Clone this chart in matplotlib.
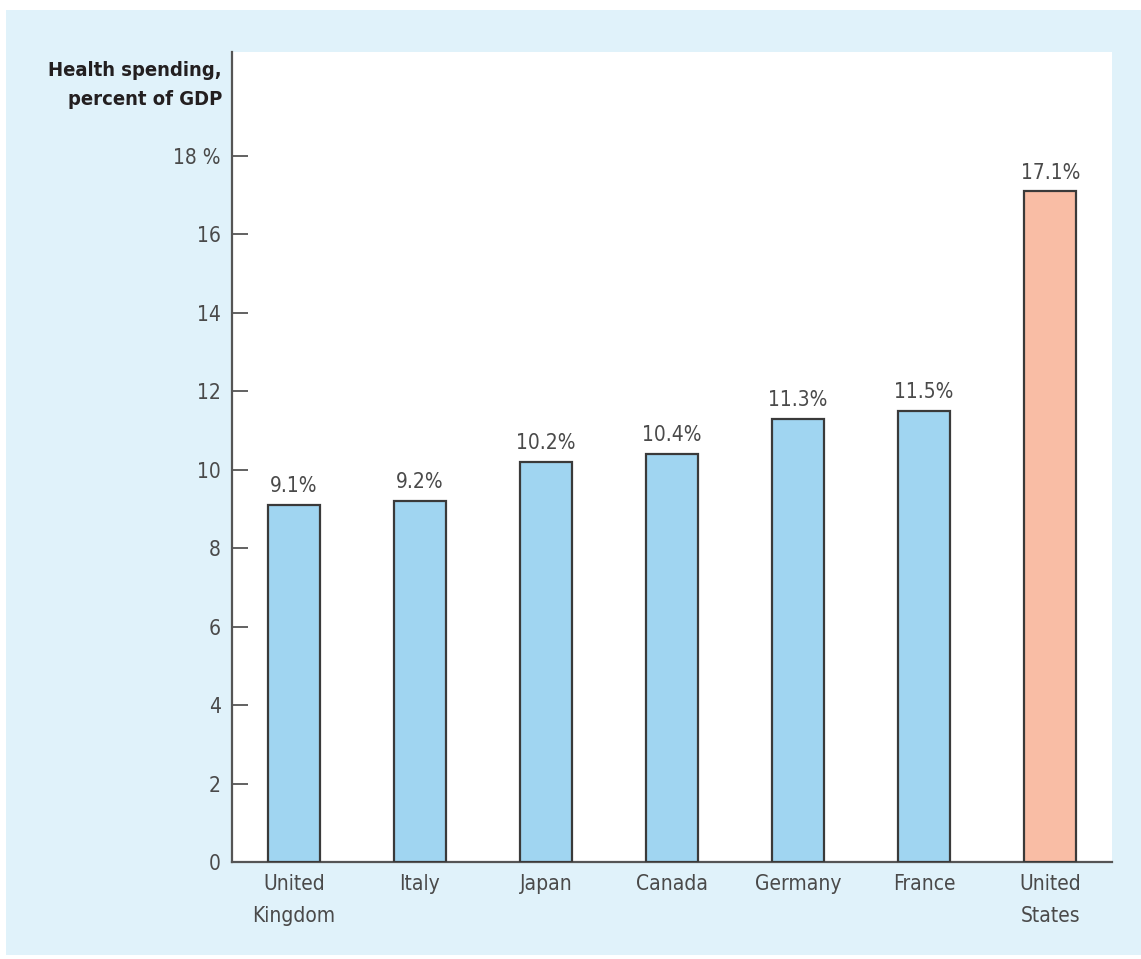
import matplotlib
matplotlib.use("Agg")
import matplotlib.pyplot as plt
from matplotlib.patches import Rectangle

countries = ["United\nKingdom", "Italy", "Japan", "Canada", "Germany", "France", "United\nStates"]
spending = [9.1, 9.2, 10.2, 10.4, 11.3, 11.5, 17.1]
value_labels = ["9.1%", "9.2%", "10.2%", "10.4%", "11.3%", "11.5%", "17.1%"]
yticks = [0, 2, 4, 6, 8, 10, 12, 14, 16, 18]
ytick_labels = ["0", "2", "4", "6", "8", "10", "12", "14", "16", "18 %"]

BLUE = "#a0d5f1"
SALMON = "#f9bda5"
PANEL = "#e0f2fa"
EDGE = "#3a3a3a"
TEXT = "#4a4a4a"

plt.rcParams["font.family"] = ["DejaVu Sans"]
plt.rcParams["font.stretch"] = "condensed"

W, H = 1141, 959
fig = plt.figure(figsize=(W / 100, H / 100), dpi=100)
fig.patch.set_facecolor("white")

# light blue panel behind the chart
fig.patches.append(Rectangle((6 / W, 4 / H), 1 - 6 / W, 1 - 14 / H,
                             transform=fig.transFigure, facecolor=PANEL,
                             edgecolor="none", zorder=-10))

left, right, top, bottom = 232, 1112, 52, 862
ax = fig.add_axes([left / W, 1 - bottom / H, (right - left) / W, (bottom - top) / H])
ax.set_facecolor("white")

colors = [BLUE] * (len(countries) - 1) + [SALMON]
x = list(range(len(countries)))
ax.bar(x, spending, width=0.41, color=colors, edgecolor=EDGE, linewidth=1.6, zorder=3)

for xi, v, lab in zip(x, spending, value_labels):
    ax.text(xi, v + 0.22, lab, ha="center", va="bottom", fontsize=15, color=TEXT)

ax.set_xlim(-0.49, 6.49)
ax.set_ylim(0, 20.65)
ax.set_yticks(yticks)
ax.set_yticklabels(ytick_labels)
ax.set_xticks(x)
ax.set_xticklabels(countries, linespacing=1.75)

for s in ("top", "right"):
    ax.spines[s].set_visible(False)
for s in ("left", "bottom"):
    ax.spines[s].set_color("#555555")
    ax.spines[s].set_linewidth(1.6)

ax.tick_params(axis="y", direction="in", length=11.5, width=1.3, color="#555555",
               labelsize=15, labelcolor=TEXT, pad=8)
ax.tick_params(axis="x", length=0, labelsize=15, labelcolor=TEXT, pad=9)

fig.text((left - 10) / W, 1 - 85 / H, "Health spending,\npercent of GDP",
         ha="right", va="center", fontsize=14.5, fontweight="bold",
         color="#231f20", linespacing=1.7)

fig.savefig("out.png", dpi=100, facecolor=fig.get_facecolor())
